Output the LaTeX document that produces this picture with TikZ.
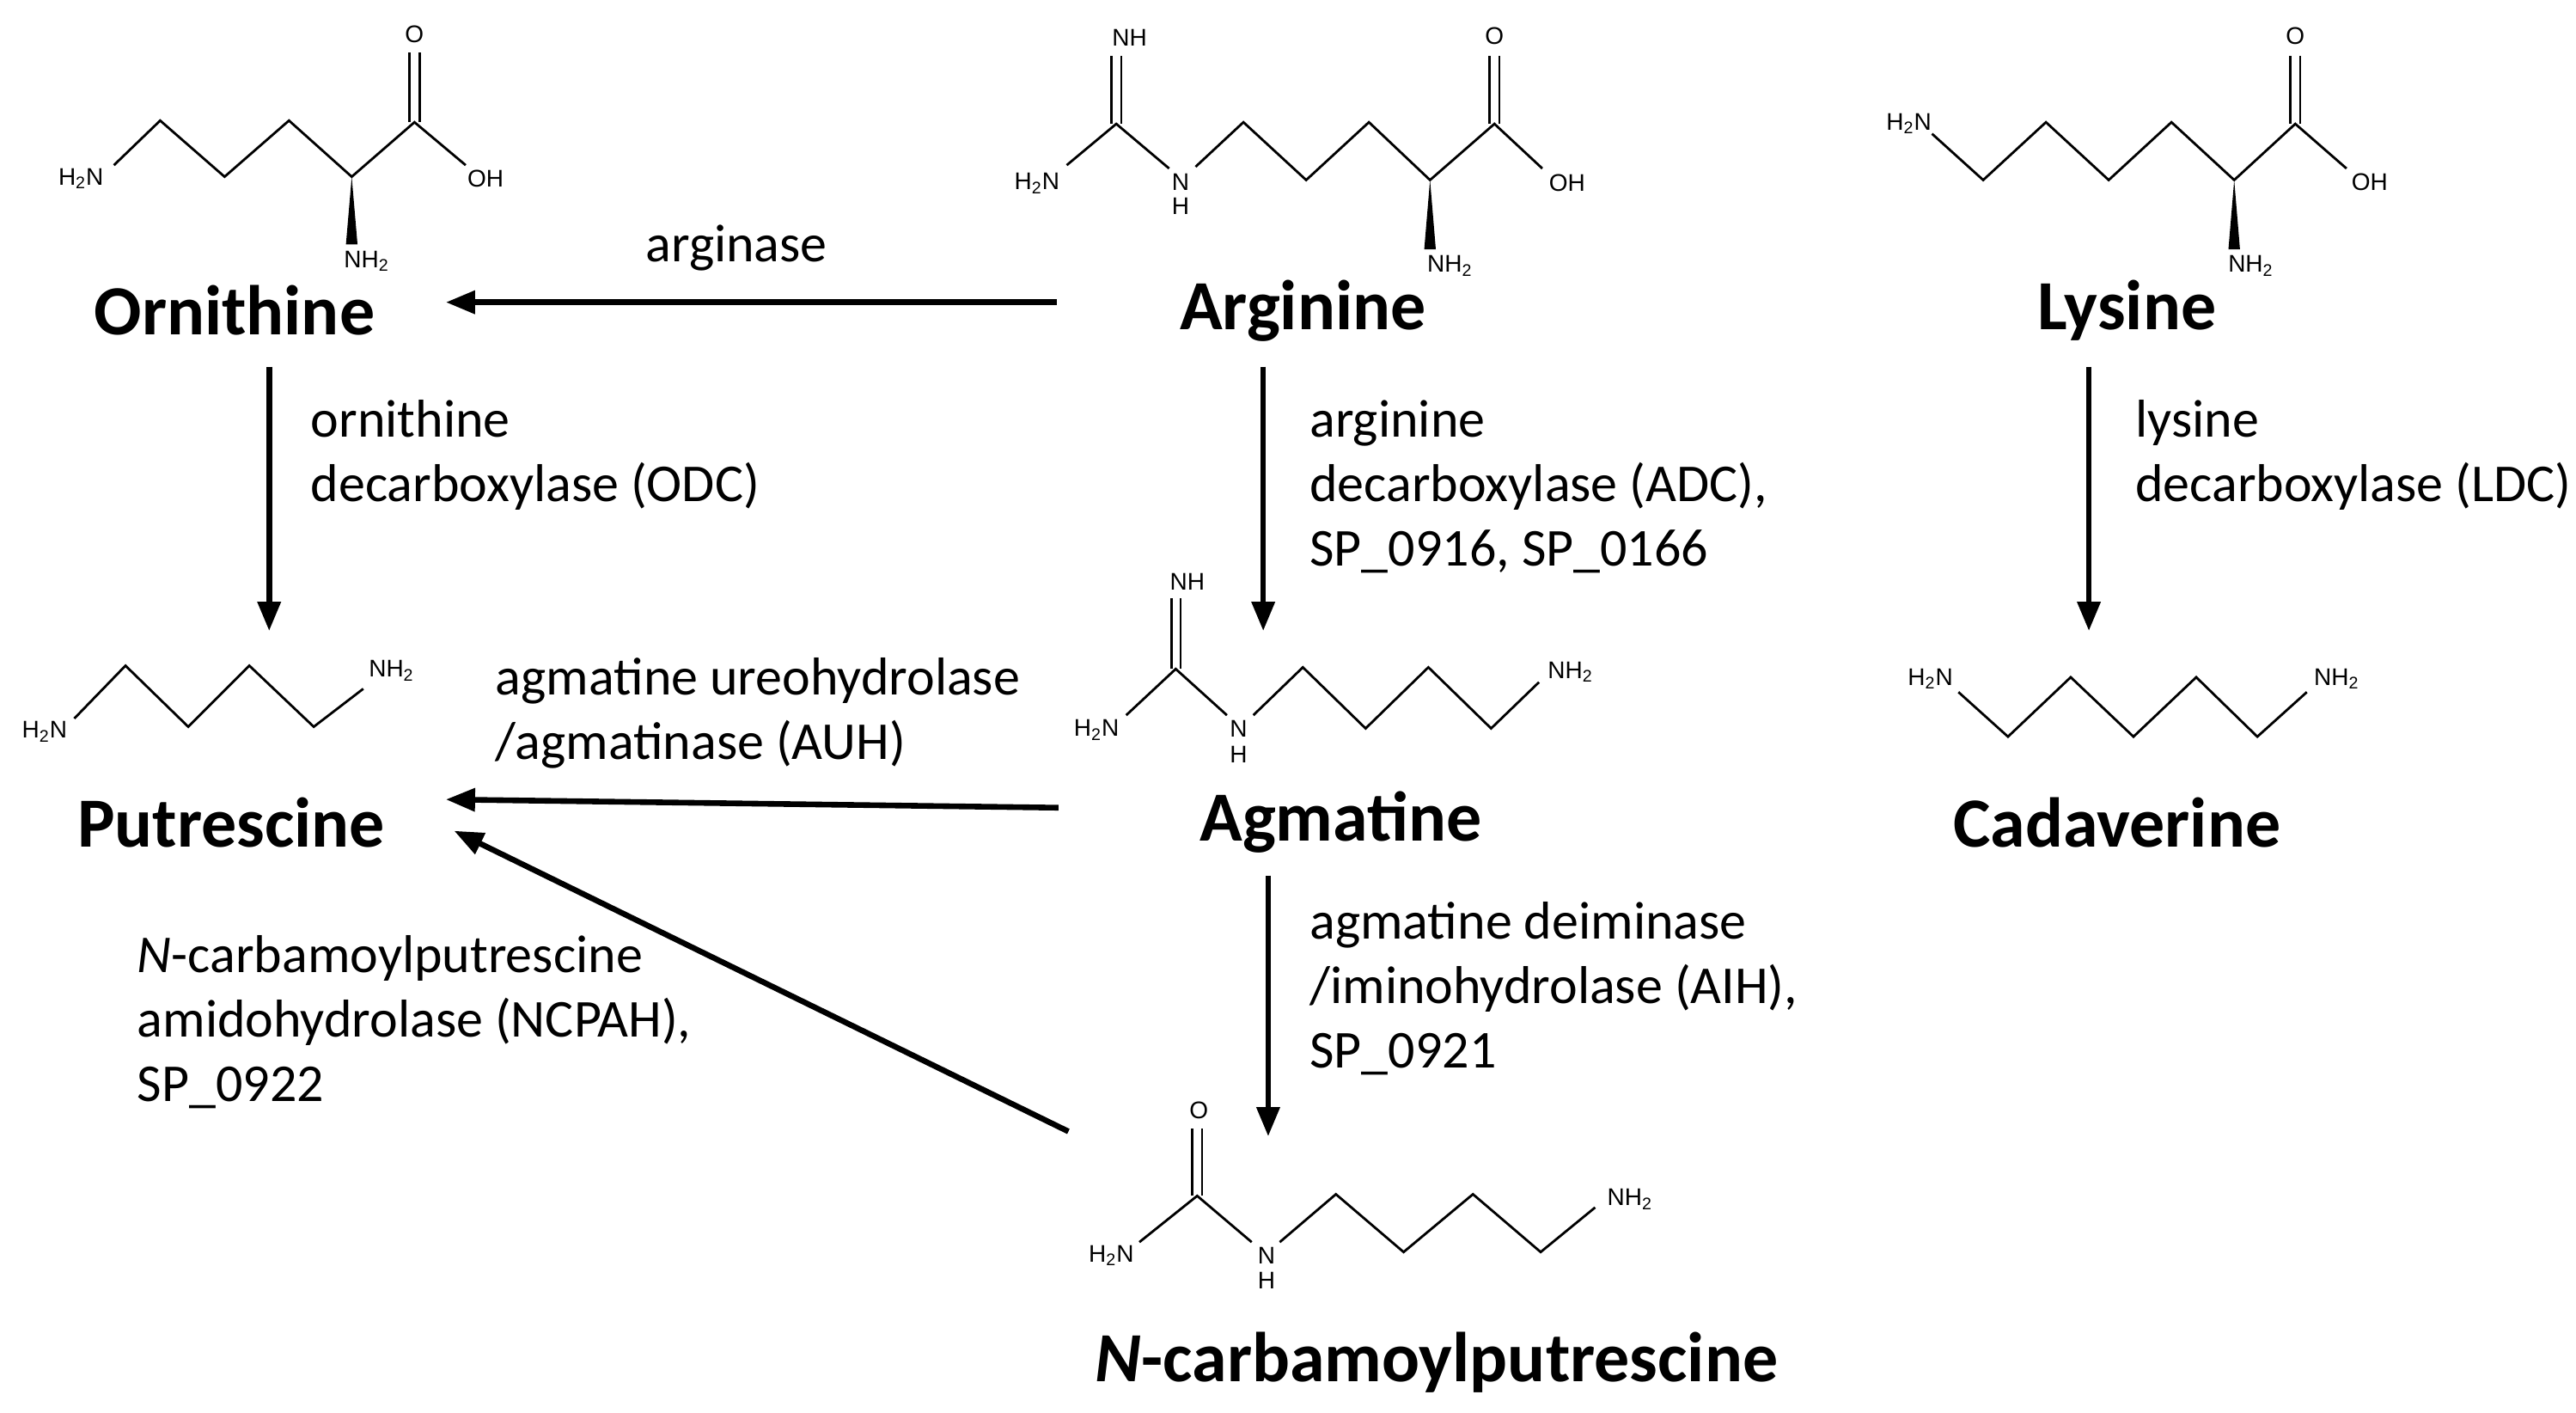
\documentclass[tikz,border=0pt]{standalone}
\usepackage{fontspec}
\setmainfont{Carlito}
\newfontfamily\chemf{Liberation Sans}
\usetikzlibrary{arrows.meta}
\begin{document}
\begin{tikzpicture}[x=0.961pt,y=-0.961pt,
  bond/.style={line width=1.4pt},
  atm/.style={font=\chemf\fontsize{14}{16}\selectfont,inner sep=0pt},
  mol/.style={font=\fontsize{41}{49}\selectfont\bfseries,inner sep=0pt},
  lab/.style={font=\fontsize{31}{37.5}\selectfont,align=left,anchor=north west,inner sep=0pt},
  rx/.style={line width=3.3pt,-{Triangle[length=17pt,width=13pt]}}]
\useasboundingbox[fill=white] (0,0) rectangle (1560,855);
% ---------- Ornithine
\node[atm] (o1) at (49,108) {H\textsubscript{2}N};
\draw[bond] (69,100) -- (97,73) -- (136,107) -- (175,73) -- (213,107) -- (251,74) -- (282,100);
\draw[bond] (248,74) -- (248,32) (254,74) -- (254,32);
\node[atm] (o2) at (251,21) {O};
\node[atm] (o3) at (294,108) {OH};
\fill (213,107) -- (209.5,148) -- (216.5,148) -- cycle;
\node[atm] (o4) at (222,158) {NH\textsubscript{2}};
% ---------- Arginine
\node[atm] (a1) at (628,111) {H\textsubscript{2}N};
\draw[bond] (646,100) -- (676,75) -- (708,102);
\draw[bond] (673,75) -- (673,34) (679,75) -- (679,34);
\node[atm] (a2) at (684,23) {NH};
\node[atm] (a3) at (715,110) {N};
\node[atm] (a4) at (715,125) {H};
\draw[bond] (724,101) -- (753,74) -- (791,109) -- (829,74) -- (866,109) -- (905,75) -- (934,102);
\draw[bond] (902,75) -- (902,34) (908,75) -- (908,34);
\node[atm] (a5) at (905,22) {O};
\node[atm] (a6) at (949,111) {OH};
\fill (866,109) -- (862.5,151) -- (869.5,151) -- cycle;
\node[atm] (a7) at (878,161) {NH\textsubscript{2}};
% ---------- Lysine
\node[atm] (l1) at (1156,75) {H\textsubscript{2}N};
\draw[bond] (1170,81) -- (1201,109) -- (1239,74) -- (1277,109) -- (1315,74) -- (1353,109) -- (1390,75) -- (1421,102);
\draw[bond] (1387,75) -- (1387,34) (1393,75) -- (1393,34);
\node[atm] (l2) at (1390,22) {O};
\node[atm] (l3) at (1435,110) {OH};
\fill (1353,109) -- (1349.5,151) -- (1356.5,151) -- cycle;
\node[atm] (l4) at (1363,161) {NH\textsubscript{2}};
% ---------- Putrescine
\node[atm] (p1) at (27,443) {H\textsubscript{2}N};
\draw[bond] (45,435) -- (76,403) -- (114,440) -- (151,403) -- (190,440) -- (220,417);
\node[atm] (p2) at (237,406) {NH\textsubscript{2}};
% ---------- Agmatine
\node[atm] (g1) at (664,442) {H\textsubscript{2}N};
\draw[bond] (682,433) -- (712,405) -- (743,433);
\draw[bond] (709.5,405) -- (709.5,362) (715,405) -- (715,362);
\node[atm] (g2) at (719,352) {NH};
\node[atm] (g3) at (750,441) {N};
\node[atm] (g4) at (750,457) {H};
\draw[bond] (759,433) -- (789,404) -- (827,441) -- (865,404) -- (903,441) -- (932,413);
\node[atm] (g5) at (951,407) {NH\textsubscript{2}};
% ---------- Cadaverine
\node[atm] (c1) at (1169,411) {H\textsubscript{2}N};
\draw[bond] (1186,419) -- (1216,446) -- (1254,410) -- (1292,446) -- (1330,410) -- (1367,446) -- (1397,419);
\node[atm] (c2) at (1415,411) {NH\textsubscript{2}};
% ---------- N-carbamoylputrescine
\node[atm] (n1) at (673,760) {H\textsubscript{2}N};
\draw[bond] (690,752) -- (725,724) -- (758,752);
\draw[bond] (722,724) -- (722,683) (728,724) -- (728,683);
\node[atm] (n2) at (726,672) {O};
\node[atm] (n3) at (767,760) {N};
\node[atm] (n4) at (767,775) {H};
\draw[bond] (775,752) -- (809,723) -- (850,758) -- (892,723) -- (933,758) -- (966,731);
\node[atm] (n5) at (987,726) {NH\textsubscript{2}};
% ---------- names
\node[mol] (orn) at (142,188) {Ornithine};
\node[mol] (arg) at (789,188) {Arginine};
\node[mol] (lys) at (1288,188) {Lysine};
\node[mol] (put) at (140,498) {Putrescine};
\node[mol] (agm) at (812,498) {Agmatine};
\node[mol] (cad) at (1282,498) {Cadaverine};
\node[mol] (ncp) at (870,825) {\textit{N}-carbamoylputrescine};
% ---------- reaction arrows
\coordinate (e1a) at (640,183); \coordinate (e1b) at (270,183);
\coordinate (e2a) at (163,222); \coordinate (e2b) at (163,382);
\coordinate (e3a) at (765,222); \coordinate (e3b) at (765,382);
\coordinate (e4a) at (1265,222); \coordinate (e4b) at (1265,382);
\coordinate (e5a) at (641,489); \coordinate (e5b) at (270,484);
\coordinate (e6a) at (768,530); \coordinate (e6b) at (768,688);
\coordinate (e7a) at (647,685); \coordinate (e7b) at (275,503);
\draw[rx] (e1a) -- (e1b);
\draw[rx] (e2a) -- (e2b);
\draw[rx] (e3a) -- (e3b);
\draw[rx] (e4a) -- (e4b);
\draw[rx] (e5a) -- (e5b);
\draw[rx] (e6a) -- (e6b);
\draw[rx] (e7a) -- (e7b);
% ---------- enzyme labels
\node[font=\fontsize{31}{37.5}\selectfont,inner sep=0pt] (t1) at (446,150) {arginase};
\node[lab] (t2) at (188,242) {ornithine\\decarboxylase (ODC)};
\node[lab] (t3) at (793,242) {arginine\\decarboxylase (ADC),\\SP\_0916, SP\_0166};
\node[lab] (t4) at (1293,242) {lysine\\decarboxylase (LDC)};
\node[lab] (t5) at (300,398) {agmatine ureohydrolase\\/agmatinase (AUH)};
\node[lab] (t6) at (793,546) {agmatine deiminase\\/iminohydrolase (AIH),\\SP\_0921};
\node[lab] (t7) at (83,566) {\textit{N}-carbamoylputrescine\\amidohydrolase (NCPAH),\\SP\_0922};
\end{tikzpicture}
\end{document}
